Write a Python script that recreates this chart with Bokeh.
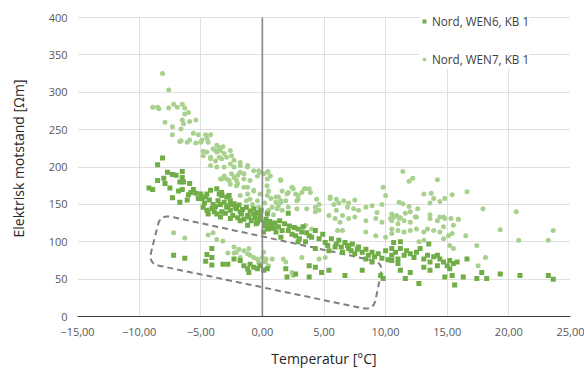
import numpy as np
from bokeh.plotting import figure
from bokeh.models import FixedTicker, Range1d
from bokeh.embed import file_html
from bokeh.resources import INLINE

# ---- data (temperature [°C], resistivity [Ωm]) ----
wen6_points = [
    (-8.1,212),(-8.5,203),(-7.7,193),(-7.3,190),(-7.0,189),(-6.5,194),(-6.5,186),(-6.7,180),(-6.4,180),(-5.9,178),
    (-8.5,182),(-7.9,178),(-8.9,170),(-6.5,170),(-5.8,166),(-7.3,159),(-6.7,153),(-6.1,156),(-5.4,165),(-5.0,164),
    (-4.5,164),(-4.2,169),(-3.7,171),(-3.5,164),(-3.3,162),(-2.9,160),(-2.6,155),(-2.3,151),(-4.8,146),(-4.5,142),
    (-4.1,144),(-3.7,137),(-3.3,140),(-2.9,146),(-2.6,142),(-2.1,144),(-1.8,140),(-1.2,135),(-0.7,137),(-0.2,135),(0.4,137),
    (-7.2,82),(-6.3,78),(-4.5,83),(-4.1,79),(-4.6,74),(-4.1,69),(-3.2,70),(-2.8,70),(-4.1,91),(-2.3,77),(-1.8,75),
    (-1.5,68),(-1.2,64),(-1.0,70),(-0.7,66),(-0.4,64),(-0.2,68),(0.1,62),(0.4,64),(-1.1,59),(-3.4,133),(-2.6,131),
    (-1.8,128),(-1.2,122),(-0.4,126),(0.4,119),(0.1,113),
    (0.5,117),(1.1,113),(1.6,115),(0.8,122),(2.1,115),(2.7,108),(3.2,113),(3.8,108),(4.3,115),(4.6,104),(5.1,99),
    (5.6,104),(6.2,102),(6.7,99),(7.3,97),(7.8,93),(8.4,90),(8.9,86),(9.4,84),(10.0,88),(10.5,82),(4.3,91),(5.4,88),
    (5.9,93),(6.5,86),(7.0,91),(7.5,84),(8.4,77),(8.9,73),(1.9,64),(2.0,53),(2.7,57),(3.8,68),(4.3,66),(3.8,53),
    (4.8,59),(5.4,62),(6.7,55),(8.1,62),(9.6,55),(9.8,51),
    (10.65,99),(11.2,100),(10.5,91),(10.8,86),(11.2,91),(11.5,82),(11.0,77),(11.7,88),(12.0,84),(12.3,79),(12.5,86),
    (12.8,91),(13.1,77),(13.4,82),(13.6,73),(13.9,80),(14.2,82),(14.4,77),(14.7,73),(15.0,68),(15.2,75),(15.5,71),
    (15.8,73),(13.5,97),(16.6,77),(15.2,64),(15.4,55),(14.8,53),(16.3,53),(17.4,51),(18.2,51),(17.8,59),(19.3,57),
    (20.9,55),(15.6,42),(12.7,44),(11.6,51),(11.2,62),(12.0,59),(13.1,66),(13.6,62),(14.2,68),(10.5,75),(11.0,71),
    (-4.9,158),(-4.7,152),(-4.3,156),(-4.0,150),(-3.8,147),(-3.6,155),(-3.4,150),(-3.1,153),(-2.8,148),(-2.5,150),
    (-2.2,146),(-1.9,149),(-1.6,143),(-1.3,146),(-1.0,141),(-0.7,144),(-0.4,139),(-0.1,142),(-2.0,132),(-1.5,130),
    (-0.9,128),(-0.5,124),(-0.2,129),(-3.0,138),(-2.4,135),(-3.9,140),(-4.4,137),(-1.7,137),(-1.1,133),(-0.6,132),
    (0.2,126),(0.5,122),(-2.7,162),(-3.3,166),(-4.6,160),(-5.2,158),(-5.6,170),(-6.0,163),(-6.8,168),(-7.5,172),
    (-8.0,185),(-9.2,172),
    (0.3,130),(0.6,127),(1.0,125),(1.4,128),(1.8,124),(2.2,121),(2.6,119),(0.2,121),(0.9,118),(1.3,120),(2.9,117),
    (3.3,120),(2.1,138),
    (3.0,104),(3.5,100),(4.0,106),(4.9,110),(5.3,95),(6.0,97),(6.4,93),(6.9,95),(7.2,88),(7.7,90),(8.1,86),(8.6,82),
    (9.1,80),(9.7,78),(10.2,76),(3.6,112),(2.4,110),(1.5,106),(2.9,100),
    (23.2,55),(23.6,50),
]

wen7_points = [
    (-8.1,325),(-7.6,303),(-8.9,280),(-8.5,280),(-8.4,278),(-7.6,279),(-7.2,284),(-6.9,280),(-6.5,284),(-6.3,279),
    (-6.3,271),(-6.0,273),(-6.5,263),(-5.9,261),(-5.4,263),(-7.9,260),(-7.3,254),(-6.6,251),(-6.4,258),(-7.3,243),
    (-6.7,234),(-5.9,236),(-5.6,245),(-5.2,243),(-4.9,236),(-4.5,238),(-4.2,243),(-4.6,243),(-4.8,221),(-4.0,224),
    (-3.5,226),(-3.2,227),(-3.4,222),(-3.7,220),(-4.2,213),(-3.8,208),(-3.3,211),(-2.9,213),(-2.5,215),(-2.6,204),
    (-3.1,200),(-3.7,200),(-2.3,200),(-1.8,202),(-1.2,200),(-0.7,195),(-0.2,193),(0.4,193),(-1.5,191),(-2.0,189),
    (-3.3,184),(-2.7,182),(-2.0,178),(-1.2,173),(-0.7,169),(0.4,162),(-0.2,164),(1.5,182),(2.5,171),(3.4,171),
    (3.9,166),(2.0,164),(4.4,157),(2.8,155),(1.1,160),(1.5,153),(5.5,160),(6.0,157),
    (-6.6,235),(-6.1,233),(-5.4,232),(-5.0,233),(-4.4,233),(-3.7,229),(-3.8,222),(-3.1,218),(-2.6,222),(-3.5,213),
    (-2.3,209),(-1.8,206),(-1.2,202),(-0.3,195),(-1.8,193),(-2.5,191),(-3.1,188),(-3.4,184),(-2.9,184),(-2.3,186),
    (-2.1,182),(-1.5,184),(-1.0,182),(-0.4,188),(0.1,191),(0.4,184),(-2.6,177),(-2.1,175),(-1.5,173),(-0.7,168),
    (-1.2,164),(-1.8,162),(-1.0,157),(-0.4,155),(-4.5,220),(-4.2,211),(-4.2,202),(-4.8,215),
    (0.46,194),(0.65,188),(1.46,183),(0.38,175),(0.51,168),(1.6,168),(2.1,166),(2.4,173),(2.7,164),(2.9,162),
    (3.2,166),(3.5,171),(3.8,171),(2.9,157),(1.3,160),(1.5,155),(1.1,153),(1.3,148),(0.8,146),(1.2,144),(0.5,142),
    (1.6,142),(2.1,146),(1.9,155),(2.8,144),(3.6,144),(4.6,150),(4.3,146),(4.6,142),(4.3,140),(5.5,158),
    (6.2,152),(5.8,150),(6.6,155),(7.0,152),(7.5,156),(6.9,146),(7.4,144),(7.8,142),(8.4,146),(8.9,148),(9.3,139),
    (9.7,150),(10.0,162),(9.8,173),(6.0,142),(5.4,135),(6.5,135),
    (5.9,131),(6.3,126),(7.0,131),(7.5,133),(8.4,128),(9.2,131),(9.7,126),(10.5,128),(6.5,115),(6.1,115),(8.4,113),
    (9.2,108),(10.0,106),(10.5,111),(3.5,122),(4.0,117),(3.2,79),(4.6,77),(5.1,79),(1.7,77),(1.9,73),(0.8,77),
    (0.5,68),(2.4,59),(2.5,55),(0.24,73),
    (-7.2,112),(-6.3,105),(-4.4,109),(-4.0,112),(-3.2,101),(-3.7,103),(-2.3,93),(-1.9,90),(-2.1,86),(-1.5,88),
    (-1.2,84),(-1.0,82),(-0.7,79),(-0.4,77),(0.0,79),(-0.3,73),(0.3,77),(0.1,86),(-1.1,91),(-1.8,79),(-2.8,85),(-2.3,85),
    (11.4,194),(12.2,185),(11.9,181),(14.2,183),(13.1,164),(13.7,165),(15.4,163),(16.6,167),(13.9,158),(13.6,152),
    (14.4,154),(14.8,158),(11.1,153),(11.4,151),(11.9,147),(12.6,144),(17.9,144),(11.6,138),(12.0,140),(10.5,137),
    (10.9,135),(11.2,132),(12.4,133),(13.6,136),(14.4,133),(14.8,131),(15.9,130),(10.4,131),
    (10.65,133),(11.1,131),(11.5,128),(11.0,124),(12.0,126),(12.5,133),(13.6,131),(14.2,128),(14.7,133),(15.3,131),
    (15.9,130),(15.5,122),(14.7,120),(14.4,113),(13.9,115),(13.4,117),(13.1,113),(12.5,117),(12.0,115),(11.5,113),
    (11.0,115),(10.5,117),(15.1,108),(15.4,111),(16.5,108),(14.7,104),(13.1,102),(12.7,100),(15.2,95),(15.5,91),
    (17.4,95),(19.3,116),(20.8,102),(17.5,68),(18.1,79),
    (-0.8,150),(-0.3,146),(0.2,152),(0.7,158),(-1.3,155),(0.9,136),(0.4,140),(-0.5,137),(23.2,102),(23.6,115),(20.6,140),
]

x_ticks = [-15, -10, -5, 0, 5, 10, 15, 20, 25]
x_tick_labels = ["\u221215,00", "\u221210,00", "\u22125,00", "0,00", "5,00", "10,00", "15,00", "20,00", "25,00"]
y_ticks = [0, 50, 100, 150, 200, 250, 300, 350, 400]

series_names = ["Nord, WEN6, KB 1", "Nord, WEN7, KB 1"]
series_colors = ["#70AD47", "#A9D18E"]

# dashed outline annotation (corners in data units)
outline_x = [-8.27, 9.81, 9.0, -9.25]
outline_y = [136.5, 72.0, 8.0, 71.0]

# ---- figure ----
W, H = 584, 370
BL, BR, BB = 77, 14, 54
TOP_GAP = 17                      # space above the 400 line (kept inside the frame for the legend)
FW = W - BL - BR
FH = H - BB                       # frame reaches the top edge
X0, X1 = x_ticks[0], x_ticks[-1]
Y0 = y_ticks[0]
Y1 = y_ticks[-1] * FH / (FH - TOP_GAP)

p = figure(width=W, height=H, output_backend="svg", toolbar_location=None,
           x_range=Range1d(X0, X1), y_range=Range1d(Y0, Y1),
           min_border_left=BL, min_border_right=BR, min_border_top=0, min_border_bottom=BB)
p.outline_line_color = None
p.background_fill_color = "white"
p.border_fill_color = "white"

grid_color = "#e0e0e0"
p.ygrid.grid_line_color = grid_color
p.ygrid.ticker = FixedTicker(ticks=y_ticks)
xg = p.xgrid[0]
if "cross_bounds" in xg.properties():
    xg.ticker = FixedTicker(ticks=x_ticks)
    xg.grid_line_color = grid_color
    xg.cross_bounds = (y_ticks[0], y_ticks[-1])
else:
    xg.grid_line_color = None
    p.segment(x0=x_ticks, y0=[y_ticks[0]] * len(x_ticks), x1=x_ticks, y1=[y_ticks[-1]] * len(x_ticks),
              line_color=grid_color, line_width=1)

p.xaxis.ticker = FixedTicker(ticks=x_ticks)
p.yaxis.ticker = FixedTicker(ticks=y_ticks)
p.xaxis.major_label_overrides = dict(zip(x_ticks, x_tick_labels))

font = "Open Sans"
for ax in (p.xaxis, p.yaxis):
    ax.major_tick_line_color = None
    ax.minor_tick_line_color = None
    ax.major_label_text_font = font
    ax.major_label_text_font_size = "11px"
    ax.major_label_text_color = "#595959"
    ax.axis_label_text_font = font
    ax.axis_label_text_font_size = "14px"
    ax.axis_label_text_font_style = "normal"
    ax.axis_label_text_color = "#262626"
p.yaxis.axis_line_color = None
p.xaxis.axis_line_color = "#404040"
p.xaxis.major_label_standoff = 5
p.yaxis.major_label_standoff = 4
p.xaxis.axis_label = "Temperatur [°C]"
p.yaxis.axis_label = "Elektrisk motstand [Ωm]"
p.xaxis.axis_label_standoff = 10
p.yaxis.axis_label_standoff = 18

# dashed rounded outline, rounded in screen space
sx, sy = FW / (X1 - X0), FH / (Y1 - Y0)
P = np.column_stack([(np.array(outline_x) - X0) * sx, np.array(outline_y) * sy])
r = 11.0
pts = []
n = len(P)
for i in range(n):
    c, a0, b0 = P[i], P[i - 1], P[(i + 1) % n]
    u = (a0 - c) / np.linalg.norm(a0 - c)
    v = (b0 - c) / np.linalg.norm(b0 - c)
    a, b = c + u * r, c + v * r
    t = np.linspace(0, 1, 10)[:, None]
    curve = (1 - t) ** 2 * a + 2 * (1 - t) * t * c + t ** 2 * b
    pts.extend(curve.tolist())
pts.append(pts[0])
pts = np.array(pts)
p.line(pts[:, 0] / sx + X0, pts[:, 1] / sy, line_color="#7f7f7f", line_width=2, line_dash="6 4")

# scatter series
w6x, w6y = zip(*wen6_points)
w7x, w7y = zip(*wen7_points)
p.scatter(list(w7x), list(w7y), marker="circle", size=5, fill_color=series_colors[1],
          line_color=None, legend_label=series_names[1])
p.scatter(list(w6x), list(w6y), marker="square", size=5, fill_color=series_colors[0],
          line_color=None, legend_label=series_names[0])

# vertical axis line at x = 0 (spans the value axis 0..400)
p.segment(x0=[0], y0=[y_ticks[0]], x1=[0], y1=[y_ticks[-1]], line_color="#878787", line_width=1.6)

leg = p.legend[0]
leg.items = [leg.items[1], leg.items[0]]
leg.location = (342, 247)
leg.padding = 9
leg.margin = 0
leg.spacing = 18
leg.glyph_width = 10
leg.glyph_height = 20
leg.label_height = 20
leg.label_standoff = 3
leg.border_line_color = None
leg.background_fill_color = "white"
leg.background_fill_alpha = 1
leg.label_text_font = font
leg.label_text_font_size = "11.7px"
leg.label_text_color = "#404040"

open("out.html", "w").write(file_html(p, INLINE))
